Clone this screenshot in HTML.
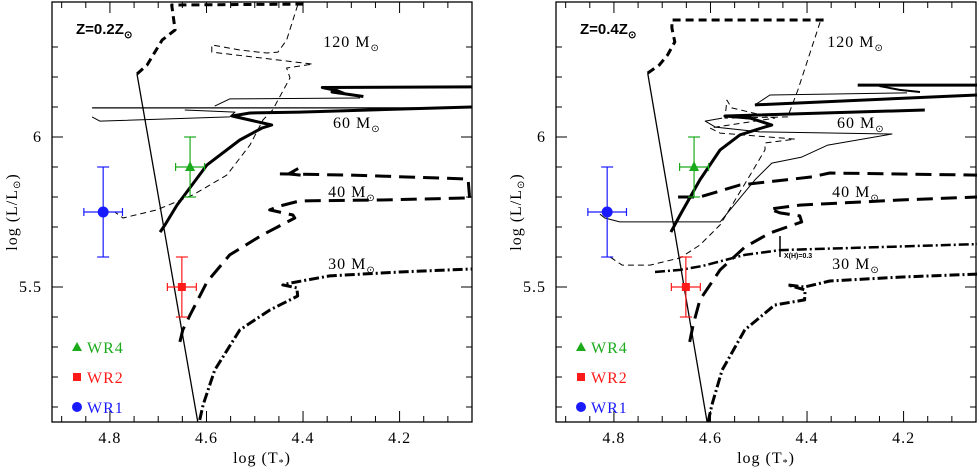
<!DOCTYPE html>
<html><head><meta charset="utf-8">
<style>
html,body{margin:0;padding:0;background:#fff;}
svg{display:block;font-family:"Liberation Serif",serif;}
</style></head>
<body>
<svg id="chart" width="979" height="468" viewBox="0 0 979 468" xmlns="http://www.w3.org/2000/svg"></svg>
<script>
// ---- data ----
const xTicksMajor = [4.8, 4.6, 4.4, 4.2];
const yTicksMajor = [6, 5.5];
const xRange = [4.92, 4.05];
const yRange = [5.05, 6.45];
const panelTitles = ["Z=0.2Z", "Z=0.4Z"];
const starNames = ["WR4", "WR2", "WR1"];
const starColors = ["#1aaa1a", "#ff1a1a", "#1a1aff"];
const starLogT = [4.634, 4.651, 4.814];
const starLogL = [5.9, 5.5, 5.75];
const starErrT = [0.03, 0.03, 0.04];
const starErrL = [0.1, 0.1, 0.15];
const massLabels = ["120", "60", "40", "30"];
const massLabelT = [4.358, 4.338, 4.348, 4.348];
const massLabelL = [6.3, 6.03, 5.8, 5.56];

const zamsLeft = [[4.744,6.21],[4.618,5.05]];
const zamsRight = [[4.730,6.213],[4.607,5.05]];

const left120thick = [[4.744,6.21],[4.723,6.24],[4.692,6.323],[4.665,6.357],[4.672,6.44],[4.392,6.443]];
const left120thin = [[4.411,6.44],[4.434,6.323],[4.452,6.283],[4.475,6.28],[4.531,6.29],[4.589,6.307],[4.589,6.283],[4.380,6.243],[4.434,6.23],[4.427,6.197],[4.463,6.09],[4.483,6.057],[4.51,5.973],[4.558,5.873],[4.628,5.807],[4.703,5.757],[4.773,5.73],[4.79,5.75]];
const left60thick = [[4.696,5.683],[4.686,5.707],[4.661,5.773],[4.599,5.907],[4.531,5.99],[4.485,6.03],[4.465,6.04],[4.547,6.07],[4.51,6.08],[4.407,6.083],[4.051,6.1]];
const left60thickTop = [[4.051,6.167],[4.36,6.165],[4.33,6.155],[4.315,6.145],[4.34,6.15],[4.275,6.135]];
const left60thin1 = [[4.837,6.097],[4.051,6.097]];
const left60thin2 = [[4.837,6.067],[4.821,6.053],[4.552,6.067],[4.541,6.083],[4.645,6.09]];
const left60thin3 = [[4.583,6.103],[4.552,6.127],[4.282,6.13]];
const left40lower = [[4.655,5.317],[4.649,5.357],[4.634,5.407],[4.599,5.517],[4.552,5.607],[4.485,5.673],[4.417,5.73],[4.421,5.74],[4.469,5.757],[4.448,5.77],[4.407,5.787],[4.241,5.79],[4.055,5.797]];
const left40upper = [[4.055,5.797],[4.058,5.86],[4.30,5.873],[4.448,5.877]];
const left40zig = [[4.405,5.873],[4.43,5.877],[4.41,5.895]];
const left30 = [[4.614,5.057],[4.607,5.107],[4.583,5.223],[4.531,5.357],[4.469,5.423],[4.411,5.47],[4.413,5.497],[4.442,5.507],[4.427,5.513],[4.345,5.537],[4.2,5.55],[4.051,5.56]];

const right120thick = [[4.730,6.213],[4.706,6.24],[4.689,6.273],[4.674,6.317],[4.68,6.363],[4.68,6.39],[4.363,6.39]];
const right120thin = [[4.373,6.383],[4.419,6.157],[4.44,6.067],[4.57,6.063],[4.566,6.123],[4.556,6.097],[4.467,6.063],[4.601,6.03],[4.58,6.013],[4.425,5.993],[4.487,5.98],[4.487,5.957],[4.518,5.873],[4.549,5.79],[4.58,5.707],[4.622,5.64],[4.663,5.597],[4.725,5.573],[4.783,5.573],[4.808,5.6]];
const right60thick = [[4.682,5.683],[4.663,5.74],[4.622,5.857],[4.58,5.957],[4.539,6.007],[4.494,6.03],[4.473,6.04],[4.518,6.063],[4.57,6.07],[4.508,6.073],[4.156,6.09]];
const right60thick2 = [[4.508,6.107],[4.048,6.14]];
const right60thickTop = [[4.295,6.173],[4.048,6.173]];
const right60zig = [[4.25,6.17],[4.208,6.157],[4.166,6.15]];
const right60thin = [[4.576,6.063],[4.611,6.053],[4.59,6.033],[4.498,6.017],[4.224,6.01],[4.357,5.973],[4.411,5.933],[4.473,5.913],[4.508,5.857],[4.58,5.717],[4.788,5.717],[4.819,5.73],[4.829,5.743]];
const right60thin2 = [[4.508,6.107],[4.477,6.14],[4.193,6.147]];
const right40lower = [[4.643,5.317],[4.636,5.373],[4.622,5.457],[4.58,5.557],[4.529,5.633],[4.477,5.68],[4.411,5.717],[4.415,5.737],[4.456,5.747],[4.477,5.76],[4.415,5.773],[4.208,5.79],[4.048,5.8]];
const right40upper = [[4.667,5.8],[4.622,5.8],[4.539,5.84],[4.39,5.867],[4.353,5.88],[4.048,5.873]];
const right30lower = [[4.605,5.05],[4.597,5.107],[4.576,5.223],[4.529,5.357],[4.467,5.44],[4.405,5.457],[4.404,5.49],[4.425,5.5],[4.44,5.507],[4.405,5.5],[4.353,5.52],[4.208,5.533],[4.048,5.543]];
const right30upper = [[4.715,5.55],[4.663,5.557],[4.617,5.57],[4.529,5.607],[4.456,5.623],[4.249,5.633],[4.048,5.643]];
const xhMarkT = 4.456;
const xhMarkL = [5.6, 5.67];

// ---- layout ----
const NS = "http://www.w3.org/2000/svg";
const svg = document.getElementById("chart");
const panelLeft = [52, 556];
const panelW = 420, plotTop = 2, plotBottom = 422;
function sx(p, t){ return panelLeft[p] + (xRange[0]-t)/(xRange[0]-xRange[1])*panelW; }
function sy(l){ return plotBottom - (l-yRange[0])/(yRange[1]-yRange[0])*(plotBottom-plotTop); }
function mk(tag, attrs, parent){ const e=document.createElementNS(NS,tag); for(const k in attrs) e.setAttribute(k,attrs[k]); (parent||svg).appendChild(e); return e; }
function line(p, pts, w, dash, name){
  const d = pts.map((q,i)=>(i?"L":"M")+sx(p,q[0]).toFixed(1)+","+sy(q[1]).toFixed(1)).join(" ");
  const e = mk("path",{d:d,fill:"none",stroke:"#000","stroke-width":w,"stroke-dasharray":dash||"none","stroke-linejoin":"round"});
  
  
}

for(let p=0;p<2;p++){
  const L = panelLeft[p];
  const g = mk("g",{});
  
  
  const fr = mk("rect",{x:L,y:plotTop,width:panelW,height:plotBottom-plotTop,fill:"none",stroke:"#000","stroke-width":1.3},g);
  
  
  for(let k=0;k<=17;k++){
    const tt=Math.round((4.9-k*0.05)*100)/100;
    const major = xTicksMajor.some(v=>Math.abs(v-tt)<1e-6);
    const len = major?11:6; const x=sx(p,tt);
    mk("line",{x1:x,x2:x,y1:plotBottom,y2:plotBottom-len,stroke:"#000","stroke-width":1},g);
    mk("line",{x1:x,x2:x,y1:plotTop,y2:plotTop+len,stroke:"#000","stroke-width":1},g);
  }
  xTicksMajor.forEach(v=>{
    const t=mk("text",{x:sx(p,v),y:443,"text-anchor":"middle","font-size":16,"letter-spacing":1},g); t.textContent=v.toFixed(1);
    
    
  });
  for(let k=1;k<=13;k++){
    const ll=Math.round((5+k*0.1)*10)/10;
    const major = yTicksMajor.some(v=>Math.abs(v-ll)<1e-6);
    const len = major?11:6; const y=sy(ll);
    mk("line",{x1:L,x2:L+len,y1:y,y2:y,stroke:"#000","stroke-width":1},g);
    mk("line",{x1:L+panelW,x2:L+panelW-len,y1:y,y2:y,stroke:"#000","stroke-width":1},g);
  }
  yTicksMajor.forEach(v=>{
    const t=mk("text",{x:L-10,y:sy(v)+5,"text-anchor":"end","font-size":16,"letter-spacing":1},g); t.textContent=String(v);
    
    
  });
  const xt = mk("text",{x:L+210,y:463,"text-anchor":"middle","font-size":16,"letter-spacing":1},g);
  xt.innerHTML = 'log (T<tspan font-size="10" dy="3">*</tspan><tspan dy="-3">)</tspan>';
  
  
  const yt = mk("text",{x:0,y:0,"text-anchor":"middle","font-size":16,"letter-spacing":1,transform:"translate("+(L-35)+",212) rotate(-90)"},g);
  yt.innerHTML = 'log (L/L<tspan font-size="10" dy="3">⊙</tspan><tspan dy="-3">)</tspan>';
  
  
  const zt = mk("text",{x:L+24,y:34,"font-size":15,"font-weight":"bold","font-family":"Liberation Sans, sans-serif"},g);
  zt.innerHTML = panelTitles[p]+'<tspan font-size="10" dy="4">⊙</tspan>';
  
  
  massLabels.forEach((m,i)=>{
    const t=mk("text",{x:sx(p,massLabelT[i]),y:sy(massLabelL[i]),"font-size":16,"letter-spacing":1},g);
    t.innerHTML = m+' M<tspan font-size="10" dy="4">⊙</tspan>';
    
    
  });
}

line(0,zamsLeft,1.3,null,'zams-line');
line(0,left120thick,3,"8,5",'track-120');
line(0,left120thin,1,"6,4",'track-120-thin');
line(0,left60thick,3,null,'track-60');
line(0,left60thickTop,3,null,'track-60-top');
line(0,left60thin1,1.2,null,'track-60-thin');
line(0,left60thin2,1,null,'track-60-thin-loop');
line(0,left60thin3,1,null,'track-60-thin-upper');
line(0,left40lower,3,"16,8",'track-40');
line(0,left40upper,3,"16,8",'track-40-upper');
line(0,left40zig,3,null,'track-40-zig');
line(0,left30,3,"10,3,2,3",'track-30');

line(1,zamsRight,1.3,null,'zams-line');
line(1,right120thick,3,"8,5",'track-120');
line(1,right120thin,1,"6,4",'track-120-thin');
line(1,right60thick,3,null,'track-60');
line(1,right60thick2,3,null,'track-60-branch');
line(1,right60thickTop,3,null,'track-60-top');
line(1,right60zig,2,null,'track-60-zig');
line(1,right60thin,1,null,'track-60-thin');
line(1,right60thin2,1,null,'track-60-thin-upper');
line(1,right40lower,3,"16,8",'track-40');
line(1,right40upper,3,"16,8",'track-40-upper');
line(1,right30lower,3,"10,3,2,3",'track-30');
line(1,right30upper,2.5,"10,3,2,3",'track-30-upper');
line(1,[[xhMarkT,xhMarkL[0]],[xhMarkT,xhMarkL[1]]],1.5,null,'xh-marker');
const xh = mk("text",{x:sx(1,xhMarkT)+4,y:sy(xhMarkL[0])+1,"font-size":7,"font-family":"Liberation Sans, sans-serif","font-weight":"bold"});
xh.textContent = "X(H)=0.3";



for(let p=0;p<2;p++){
  starNames.forEach((n,i)=>{
    const c=starColors[i], x=sx(p,starLogT[i]), y=sy(starLogL[i]);
    const g=mk("g",{stroke:c,"stroke-width":1.2});
    
    
    const x1=sx(p,starLogT[i]+starErrT[i]), x2=sx(p,starLogT[i]-starErrT[i]);
    const y1=sy(starLogL[i]+starErrL[i]), y2=sy(starLogL[i]-starErrL[i]);
    mk("line",{x1:x1,x2:x2,y1:y,y2:y},g);
    mk("line",{x1:x,x2:x,y1:y1,y2:y2},g);
    mk("line",{x1:x1,x2:x1,y1:y-4,y2:y+4},g);
    mk("line",{x1:x2,x2:x2,y1:y-4,y2:y+4},g);
    mk("line",{x1:x-6,x2:x+6,y1:y1,y2:y1},g);
    mk("line",{x1:x-6,x2:x+6,y1:y2,y2:y2},g);
    const ly = 347 + i*30, lx = panelLeft[p]+25;
    if(i===0){ mk("polygon",{points:`${x},${y-6} ${x-5},${y+4} ${x+5},${y+4}`,fill:c,stroke:"none"},g);
               mk("polygon",{points:`${lx},${ly-5} ${lx-5},${ly+4} ${lx+5},${ly+4}`,fill:c,stroke:"none"},g); }
    if(i===1){ mk("rect",{x:x-4,y:y-4,width:8,height:8,fill:c,stroke:"none"},g);
               mk("rect",{x:lx-4,y:ly-4,width:8,height:8,fill:c,stroke:"none"},g); }
    if(i===2){ mk("circle",{cx:x,cy:y,r:5.5,fill:c,stroke:"none"},g);
               mk("circle",{cx:lx,cy:ly,r:5,fill:c,stroke:"none"},g); }
    const t=mk("text",{x:lx+10,y:ly+6,"font-size":16,"letter-spacing":1,fill:c,stroke:"none"},g);
    t.textContent=n;
    
    
  });
}
</script>
</body></html>
